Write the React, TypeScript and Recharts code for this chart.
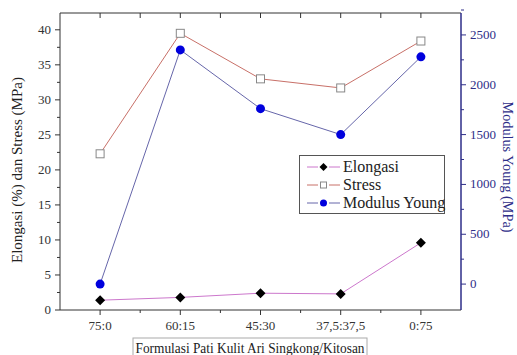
import React from "react";
import { ComposedChart, Line, XAxis, YAxis } from "recharts";

const categories = ["75:0", "60:15", "45:30", "37,5:37,5", "0:75"];
const elongasi = [1.4, 1.8, 2.4, 2.3, 9.6];
const stress = [22.3, 39.5, 33.0, 31.7, 38.4];
const modulusYoung = [0, 2350, 1760, 1500, 2280];
const leftTicks = [0, 5, 10, 15, 20, 25, 30, 35, 40];
const rightTicks = [0, 500, 1000, 1500, 2000, 2500];

const data = categories.map((c, i) => ({
  idx: i,
  cat: c,
  elongasi: elongasi[i],
  stress: stress[i],
  modulus: modulusYoung[i],
}));

const withMinor = (major: number[], step: number) => {
  const out: number[] = [];
  major.forEach((v, i) => {
    out.push(v);
    if (i < major.length - 1) out.push(v + step);
  });
  out.push(major[major.length - 1] + step);
  return out;
};

const xTicks = withMinor([0, 1, 2, 3, 4], 0.5).filter((v) => v <= 4);
const FONT = "Times New Roman";
const BLUE = "#2e2e88";
const TXT = { fontFamily: FONT } as React.CSSProperties;

const LeftTick = (props: any) => {
  const { y, payload } = props;
  const major = leftTicks.includes(payload.value);
  return (
    <g>
      <line x1={60 - (major ? 5 : 3)} x2={60} y1={y} y2={y} stroke="#333" strokeWidth={1} />
      {major && (
        <text x={51} y={y} dy={4} textAnchor="end" fontSize={13} fill="#333" fontFamily={FONT} style={TXT}>
          {payload.value}
        </text>
      )}
    </g>
  );
};

const RightTick = (props: any) => {
  const { y, payload } = props;
  const major = rightTicks.includes(payload.value);
  return (
    <g>
      <line x1={461} x2={461 + (major ? 5 : 3)} y1={y} y2={y} stroke={BLUE} strokeWidth={1} />
      {major && (
        <text x={470} y={y} dy={4} textAnchor="start" fontSize={13} fill={BLUE} fontFamily={FONT} style={TXT}>
          {payload.value}
        </text>
      )}
    </g>
  );
};

const BottomTick = (props: any) => {
  const { x, payload } = props;
  const major = Number.isInteger(payload.value);
  return (
    <g>
      <line x1={x} x2={x} y1={310} y2={310 + (major ? 5 : 3)} stroke="#333" strokeWidth={1} />
      {major && (
        <text x={x} y={330} textAnchor="middle" fontSize={13} fill="#333" fontFamily={FONT} style={TXT}>
          {categories[payload.value]}
        </text>
      )}
    </g>
  );
};

const TopTick = (props: any) => {
  const { x } = props;
  return <line x1={x} x2={x} y1={13} y2={18} stroke="#333" strokeWidth={1} />;
};

const Diamond = (props: any) => {
  const { cx, cy } = props;
  if (cx == null || cy == null) return null;
  return <polygon points={`${cx},${cy - 5} ${cx + 5},${cy} ${cx},${cy + 5} ${cx - 5},${cy}`} fill="#000" />;
};
const Square = (props: any) => {
  const { cx, cy } = props;
  if (cx == null || cy == null) return null;
  return <rect x={cx - 4} y={cy - 4} width={8} height={8} fill="#fff" stroke="#888" strokeWidth={1} />;
};
const Dot = (props: any) => {
  const { cx, cy } = props;
  if (cx == null || cy == null) return null;
  return <circle cx={cx} cy={cy} r={4.5} fill="#0000dd" />;
};

const legendItems = [
  { name: "Elongasi", color: "#cc77cc", marker: "diamond" },
  { name: "Stress", color: "#c87068", marker: "square" },
  { name: "Modulus Young", color: "#6666aa", marker: "dot" },
];

const LegendBox = () => (
  <div
    style={{
      position: "absolute",
      left: 299,
      top: 155,
      boxSizing: "border-box",
      width: 146,
      height: 59,
      border: "1px solid #555",
      background: "#fff",
      padding: "2px 4px 2px 7px",
      fontFamily: FONT,
      fontSize: 16,
      lineHeight: "18px",
      color: "#222",
      whiteSpace: "nowrap",
    }}
  >
    {legendItems.map((it) => (
      <div key={it.name} style={{ display: "flex", alignItems: "center", height: 18 }}>
        <svg width={33} height={12} style={{ marginRight: 3, flex: "none" }}>
          <line x1={0} x2={11} y1={6} y2={6} stroke={it.color} strokeWidth={1} />
          <line x1={22} x2={33} y1={6} y2={6} stroke={it.color} strokeWidth={1} />
          {it.marker === "diamond" && <polygon points="16.5,2 20.5,6 16.5,10 12.5,6" fill="#000" />}
          {it.marker === "square" && <rect x={13.5} y={3} width={6} height={6} fill="#fff" stroke="#888" />}
          {it.marker === "dot" && <circle cx={16.5} cy={6} r={3.5} fill="#0000dd" />}
        </svg>
        <span>{it.name}</span>
      </div>
    ))}
  </div>
);

export default function App() {
  return (
    <div style={{ position: "absolute", left: 0, top: 0, width: 517, height: 355, background: "#fff" }}>
      <ComposedChart
        width={517}
        height={355}
        data={data}
        margin={{ top: 0, right: 0, left: 0, bottom: 0 }}
        style={{ fontFamily: FONT }}
      >
        <XAxis
          xAxisId="bottom"
          dataKey="idx"
          type="number"
          domain={[-0.5, 4.5]}
          ticks={xTicks}
          interval={0}
          height={45}
          axisLine={{ stroke: "#333" }}
          tickLine={false}
          tick={<BottomTick />}
          label={{
            content: () => (
              <g>
                <rect x={133} y={338} width={234} height={20} fill="#fff" stroke="#aaa" strokeWidth={1} />
                <text
                  x={250}
                  y={353}
                  textAnchor="middle"
                  fontSize={15}
                  fill="#222"
                  fontFamily={FONT}
                  style={TXT}
                  textLength={229}
                  lengthAdjust="spacingAndGlyphs"
                >
                  Formulasi Pati Kulit Ari Singkong/Kitosan
                </text>
              </g>
            ),
          }}
        />
        <XAxis
          xAxisId="top"
          dataKey="idx"
          type="number"
          orientation="top"
          domain={[-0.5, 4.5]}
          ticks={xTicks}
          interval={0}
          height={13}
          axisLine={{ stroke: "#333" }}
          tickLine={false}
          tick={<TopTick />}
        />
        <YAxis
          yAxisId="left"
          domain={[0, 42.4]}
          ticks={withMinor(leftTicks, 2.5).filter((v) => v <= 42.4)}
          interval={0}
          width={60}
          axisLine={{ stroke: "#333" }}
          tickLine={false}
          tick={<LeftTick />}
          label={{
            content: () => (
              <text
                x={22}
                y={170}
                transform="rotate(-90 22 170)"
                textAnchor="middle"
                fontSize={15}
                fill="#222"
                fontFamily={FONT}
                style={TXT}
                textLength={186}
                lengthAdjust="spacingAndGlyphs"
              >
                Elongasi (%) dan Stress (MPa)
              </text>
            ),
          }}
        />
        <YAxis
          yAxisId="right"
          orientation="right"
          domain={[-260, 2720]}
          ticks={withMinor(rightTicks, 250)}
          interval={0}
          width={56}
          axisLine={{ stroke: BLUE, strokeWidth: 1.5 }}
          tickLine={false}
          tick={<RightTick />}
          label={{
            content: () => (
              <text
                x={503}
                y={167}
                transform="rotate(90 503 167)"
                textAnchor="middle"
                fontSize={15}
                fill={BLUE}
                fontFamily={FONT}
                style={TXT}
                textLength={131}
                lengthAdjust="spacingAndGlyphs"
              >
                Modulus Young (MPa)
              </text>
            ),
          }}
        />
        <Line
          xAxisId="bottom"
          yAxisId="left"
          dataKey="stress"
          name="Stress"
          stroke="#c87068"
          strokeWidth={1}
          dot={<Square />}
          activeDot={false}
          isAnimationActive={false}
        />
        <Line
          xAxisId="bottom"
          yAxisId="right"
          dataKey="modulus"
          name="Modulus Young"
          stroke="#6666aa"
          strokeWidth={1}
          dot={<Dot />}
          activeDot={false}
          isAnimationActive={false}
        />
        <Line
          xAxisId="bottom"
          yAxisId="left"
          dataKey="elongasi"
          name="Elongasi"
          stroke="#cc77cc"
          strokeWidth={1}
          dot={<Diamond />}
          activeDot={false}
          isAnimationActive={false}
        />
      </ComposedChart>
      <LegendBox />
    </div>
  );
}
